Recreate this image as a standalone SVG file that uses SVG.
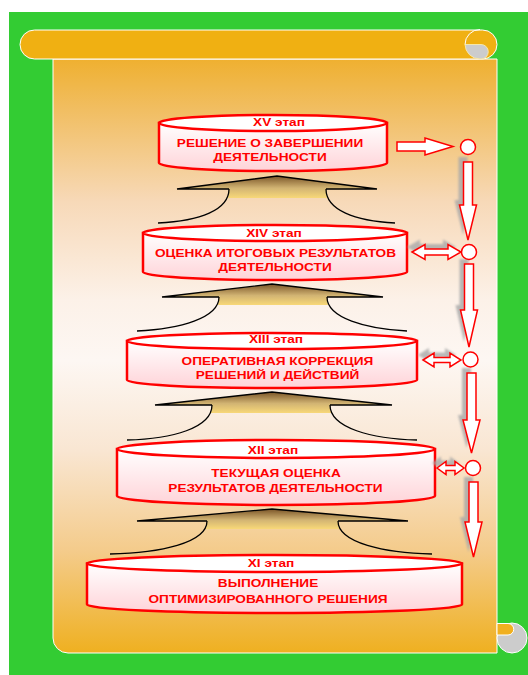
<svg xmlns="http://www.w3.org/2000/svg" width="528" height="675" viewBox="0 0 528 675">
<defs>
<linearGradient id="bodyGrad" gradientUnits="userSpaceOnUse" x1="0" y1="59" x2="0" y2="653">
<stop offset="0" stop-color="#EFB030"/>
<stop offset="0.086" stop-color="#F1BE62"/>
<stop offset="0.24" stop-color="#F7D9B8"/>
<stop offset="0.405" stop-color="#FCF1E8"/>
<stop offset="0.507" stop-color="#FDF7F3"/>
<stop offset="0.66" stop-color="#F9E6D2"/>
<stop offset="0.83" stop-color="#F4CB8A"/>
<stop offset="1" stop-color="#EFB020"/>
</linearGradient>
<linearGradient id="cylGrad" x1="0" y1="0" x2="0" y2="1">
<stop offset="0" stop-color="#FFFFFF"/>
<stop offset="1" stop-color="#FFD3D8"/>
</linearGradient>
<linearGradient id="roofGrad" x1="0" y1="0" x2="0" y2="1">
<stop offset="0" stop-color="#7A5528"/>
<stop offset="0.55" stop-color="#D2B473"/>
<stop offset="1" stop-color="#F8D878"/>
</linearGradient>
<filter id="blur" x="-20%" y="-20%" width="140%" height="140%">
<feGaussianBlur stdDeviation="1"/>
</filter>
</defs>
<style>
.cyl{stroke:#FF0000;stroke-width:2.5;fill:url(#cylGrad)}
.cyltop{stroke:#FF0000;stroke-width:2.5;fill:#FFFFFF}
.t{font-family:"Liberation Sans",Arial,sans-serif;font-weight:bold;font-size:11px;fill:#FF0000;text-anchor:middle}
.roof{fill:url(#roofGrad);stroke:none}
.line{fill:none;stroke:#000000;stroke-width:1.3}
.arr{fill:#FFFFFF;stroke:#FF0000;stroke-width:1.5;stroke-linejoin:miter}
.shd{fill:#A8A8A8;opacity:0.8;filter:url(#blur)}
.dot{fill:#FFFFFF;stroke:#FF0000;stroke-width:1.5}
</style>

<!-- background -->
<rect x="9" y="12" width="519" height="663" fill="#33CC33"/>

<!-- scroll -->
<g id="scroll">
<path d="M53,59 H497 V653 H68 A15,15 0 0 1 53,638 Z" fill="url(#bodyGrad)" stroke="#FFFFFF" stroke-width="1"/>
<circle cx="512" cy="638" r="15" fill="#CCCCCC" stroke="#FFFFFF" stroke-width="1"/>
<path d="M497,623.5 H508 A5.75,5.75 0 0 1 508,635 H497 Z" fill="#F0B020" stroke="#FFFFFF" stroke-width="1"/>
<rect x="20" y="30" width="477" height="29" rx="14.5" ry="14.5" fill="#F0B012" stroke="#FFFFFF" stroke-width="1"/>
<path d="M465,44.5 H481 A7.25,7.25 0 0 1 481,59 H480 A15,15 0 0 1 465,44.5 Z" fill="#CCCCCC" stroke="#F6E7A8" stroke-width="1"/>
<path d="M480,29.5 A15,15 0 0 0 465,44.5" fill="none" stroke="#FFFFFF" stroke-width="1"/>
</g>

<!-- funnels between stages -->
<g id="funnels">
<g id="funnel-15-14">
<path class="roof" d="M177,189 L277,176 L377,189 L326,189 L327,198 L228,198 L229,189 Z"/>
<path class="line" d="M229,189 H177 L277,176 L377,189 H326"/>
<path class="line" d="M229,189 C229,210 200,221 158,223"/>
<path class="line" d="M326,189 C326,210 355,221 395,223"/>
</g>
<g id="funnel-14-13">
<path class="roof" d="M162,297 L272,284 L383,297 L327,297 L328,305 L218,305 L219,297 Z"/>
<path class="line" d="M219,297 H162 L272,284 L383,297 H327"/>
<path class="line" d="M219,297 C219,318 180,329 137,331"/>
<path class="line" d="M327,297 C327,318 366,329 407,331"/>
</g>
<g id="funnel-13-12">
<path class="roof" d="M155,405 L272,392 L392,405 L330,405 L331,413 L211,413 L212,405 Z"/>
<path class="line" d="M212,405 H155 L272,392 L392,405 H330"/>
<path class="line" d="M212,405 C212,428 172,439 127,440"/>
<path class="line" d="M330,405 C330,428 372,439 417,440"/>
</g>
<g id="funnel-12-11">
<path class="roof" d="M137,521 L272,509 L408,521 L338,521 L339,529 L206,529 L207,521 Z"/>
<path class="line" d="M207,521 H137 L272,509 L408,521 H338"/>
<path class="line" d="M207,521 C207,543 160,553 110,554"/>
<path class="line" d="M338,521 C338,543 385,553 432,554"/>
</g>
</g>

<!-- stages -->
<g id="stage-XV">
<path class="cyl" d="M159,123 V163 A114,8 0 0 0 387,163 V123 Z"/>
<ellipse class="cyltop" cx="273" cy="123" rx="114" ry="8"/>
<text class="t" transform="translate(279,126) scale(1.24,1)">XV этап</text>
<text class="t" transform="translate(270,147) scale(1.24,1)">РЕШЕНИЕ О ЗАВЕРШЕНИИ</text>
<text class="t" transform="translate(270,161) scale(1.24,1)">ДЕЯТЕЛЬНОСТИ</text>
</g>
<g id="stage-XIV">
<path class="cyl" d="M143,233 V272 A132,8 0 0 0 407,272 V233 Z"/>
<ellipse class="cyltop" cx="275" cy="233" rx="132" ry="8"/>
<text class="t" transform="translate(274,237) scale(1.24,1)">XIV этап</text>
<text class="t" transform="translate(275.5,257) scale(1.24,1)">ОЦЕНКА ИТОГОВЫХ РЕЗУЛЬТАТОВ</text>
<text class="t" transform="translate(275,271) scale(1.24,1)">ДЕЯТЕЛЬНОСТИ</text>
</g>
<g id="stage-XIII">
<path class="cyl" d="M127,341 V380 A145,8 0 0 0 417,380 V341 Z"/>
<ellipse class="cyltop" cx="272" cy="341" rx="145" ry="8"/>
<text class="t" transform="translate(276,343) scale(1.24,1)">XIII этап</text>
<text class="t" transform="translate(277.5,365) scale(1.24,1)">ОПЕРАТИВНАЯ КОРРЕКЦИЯ</text>
<text class="t" transform="translate(277.5,379) scale(1.24,1)">РЕШЕНИЙ И ДЕЙСТВИЙ</text>
</g>
<g id="stage-XII">
<path class="cyl" d="M117,449 V496 A159,9 0 0 0 435,496 V449 Z"/>
<ellipse class="cyltop" cx="276" cy="449" rx="159" ry="9"/>
<text class="t" transform="translate(273,454) scale(1.24,1)">XII этап</text>
<text class="t" transform="translate(276,477) scale(1.24,1)">ТЕКУЩАЯ ОЦЕНКА</text>
<text class="t" transform="translate(275.5,492) scale(1.24,1)">РЕЗУЛЬТАТОВ ДЕЯТЕЛЬНОСТИ</text>
</g>
<g id="stage-XI">
<path class="cyl" d="M87,563.5 V604.5 A187.5,8.5 0 0 0 462,604.5 V563.5 Z"/>
<ellipse class="cyltop" cx="274.5" cy="563.5" rx="187.5" ry="8.5"/>
<text class="t" transform="translate(271,567) scale(1.24,1)">XI этап</text>
<text class="t" transform="translate(268,587) scale(1.24,1)">ВЫПОЛНЕНИЕ</text>
<text class="t" transform="translate(268,603) scale(1.24,1)">ОПТИМИЗИРОВАННОГО РЕШЕНИЯ</text>
</g>

<!-- connectors on the right -->
<g id="connectors">
<g id="shadows" transform="translate(-5,-5)">
<path class="shd" d="M463.5,162 H472.5 V205 H476.5 L468,240 L459.5,205 H463.5 Z"/>
<path class="shd" d="M464.5,264 H473.5 V310 H477.5 L469,347 L460.5,310 H464.5 Z"/>
<path class="shd" d="M467,373 H476 V420 H480 L471.5,453 L463,420 H467 Z"/>
<path class="shd" d="M469,482 H478 V522 H482 L473.5,557 L465,522 H469 Z"/>
<path class="shd" d="M412,252 L425,244.5 V249 H448 V244.5 L461,252 L448,259.5 V255 H425 V259.5 Z"/>
<path class="shd" d="M423,360 L434,353 V357.5 H450 V353 L461,360 L450,367 V362.5 H434 V367 Z"/>
<path class="shd" d="M437,468 L446,461.5 V465.5 H455 V461.5 L464,468 L455,474.5 V470.5 H446 V474.5 Z"/>
</g>
<path class="arr" d="M397,142 H425 V138 L453,146.5 L425,155 V151 H397 Z"/>
<path class="arr" d="M463.5,162 H472.5 V205 H476.5 L468,240 L459.5,205 H463.5 Z"/>
<path class="arr" d="M464.5,264 H473.5 V310 H477.5 L469,347 L460.5,310 H464.5 Z"/>
<path class="arr" d="M467,373 H476 V420 H480 L471.5,453 L463,420 H467 Z"/>
<path class="arr" d="M469,482 H478 V522 H482 L473.5,557 L465,522 H469 Z"/>
<path class="arr" d="M412,252 L425,244.5 V249 H448 V244.5 L461,252 L448,259.5 V255 H425 V259.5 Z"/>
<path class="arr" d="M423,360 L434,353 V357.5 H450 V353 L461,360 L450,367 V362.5 H434 V367 Z"/>
<path class="arr" d="M437,468 L446,461.5 V465.5 H455 V461.5 L464,468 L455,474.5 V470.5 H446 V474.5 Z"/>
<circle class="dot" cx="468" cy="147" r="7.5"/>
<circle class="dot" cx="469" cy="252" r="7.5"/>
<circle class="dot" cx="470.5" cy="359.5" r="7.5"/>
<circle class="dot" cx="473" cy="468" r="7.5"/>
</g>
</svg>
